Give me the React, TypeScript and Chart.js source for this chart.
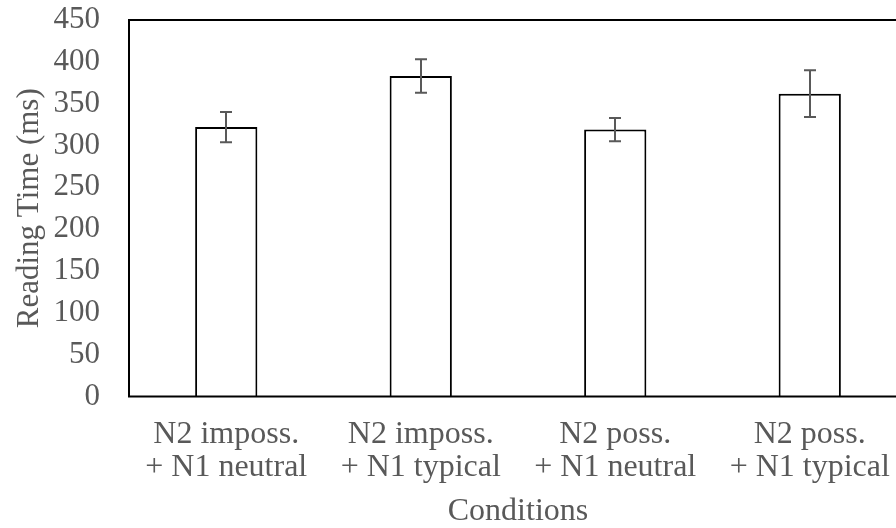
import React, { useEffect, useRef } from "react";
import { Chart, registerables } from "chart.js";

Chart.register(...registerables);

const categories: string[][] = [
  ["N2 imposs.", "+ N1 neutral"],
  ["N2 imposs.", "+ N1 typical"],
  ["N2 poss.", "+ N1 neutral"],
  ["N2 poss.", "+ N1 typical"],
];
const readingTimes: number[] = [322, 383, 319, 362];
const errors: number[] = [18, 20, 14, 28];
const yTicks: number[] = [0, 50, 100, 150, 200, 250, 300, 350, 400, 450];

const TEXT = "#595959";
const FONT = "'Liberation Serif', 'Times New Roman', serif";

const errorBarPlugin = {
  id: "errorBars",
  afterDatasetsDraw(chart: any) {
    const meta = chart.getDatasetMeta(0);
    const y = chart.scales.y;
    const ctx = chart.ctx;
    ctx.save();
    ctx.strokeStyle = TEXT;
    ctx.lineWidth = 2;
    meta.data.forEach((el: any, i: number) => {
      const v = readingTimes[i];
      const e = errors[i];
      const x = Math.round(el.x);
      const top = y.getPixelForValue(v + e);
      const bot = y.getPixelForValue(v - e);
      ctx.beginPath();
      ctx.moveTo(x, top);
      ctx.lineTo(x, bot);
      ctx.moveTo(x - 6, top);
      ctx.lineTo(x + 6, top);
      ctx.moveTo(x - 6, bot);
      ctx.lineTo(x + 6, bot);
      ctx.stroke();
    });
    ctx.restore();
  },
  afterDraw(chart: any) {
    const a = chart.chartArea;
    const ctx = chart.ctx;
    ctx.save();
    ctx.strokeStyle = "#000";
    ctx.lineWidth = 2;
    ctx.strokeRect(a.left, a.top, a.right - a.left, a.bottom - a.top);
    ctx.restore();
  },
};

export default function App() {
  const ref = useRef<HTMLCanvasElement>(null);
  useEffect(() => {
    if (!ref.current) return;
    const chart = new Chart(ref.current, {
      type: "bar",
      data: {
        labels: categories,
        datasets: [
          {
            data: readingTimes,
            backgroundColor: "#ffffff",
            borderColor: "#000000",
            borderWidth: 2,
            barPercentage: 0.32,
            categoryPercentage: 1,
          },
        ],
      },
      options: {
        responsive: false,
        animation: false,
        devicePixelRatio: 1,
        layout: { padding: { top: 20, right: 13, left: 0, bottom: 0 } },
        plugins: { legend: { display: false }, tooltip: { enabled: false } },
        scales: {
          x: {
            grid: { display: false, drawTicks: false },
            border: { display: false },
            ticks: {
              color: TEXT,
              font: { family: FONT, size: 32, lineHeight: 1.03 },
              padding: 22,
              maxRotation: 0,
              autoSkip: false,
            },
            title: {
              display: true,
              text: "Conditions",
              color: TEXT,
              font: { family: FONT, size: 32, lineHeight: 1 },
              padding: { top: 0, bottom: 0 },
            },
            afterFit: (s: any) => {
              s.height = 131.5;
              s.paddingLeft = 0;
              s.paddingRight = 0;
            },
          },
          y: {
            min: 0,
            max: 450,
            afterBuildTicks: (s: any) => {
              s.ticks = yTicks.map((v) => ({ value: v }));
            },
            grid: { display: false, drawTicks: false },
            border: { display: false },
            ticks: {
              color: TEXT,
              font: { family: FONT, size: 31 },
              padding: 29,
              autoSkip: false,
            },
            title: {
              display: true,
              text: "Reading Time (ms)",
              color: TEXT,
              font: { family: FONT, size: 31, lineHeight: 1 },
              padding: { top: 14.5, bottom: 0 },
            },
            afterFit: (s: any) => {
              s.width = 129;
              s.paddingTop = 0;
              s.paddingBottom = 0;
            },
          },
        },
      },
      plugins: [errorBarPlugin],
    });
    return () => chart.destroy();
  }, []);
  return (
    <div
      style={{
        position: "fixed",
        left: 0,
        top: 0,
        width: 896,
        height: 528,
        overflow: "hidden",
        background: "#fff",
      }}
    >
      <canvas
        ref={ref}
        width={920}
        height={528}
        style={{ display: "block", width: 920, height: 528 }}
      />
    </div>
  );
}
